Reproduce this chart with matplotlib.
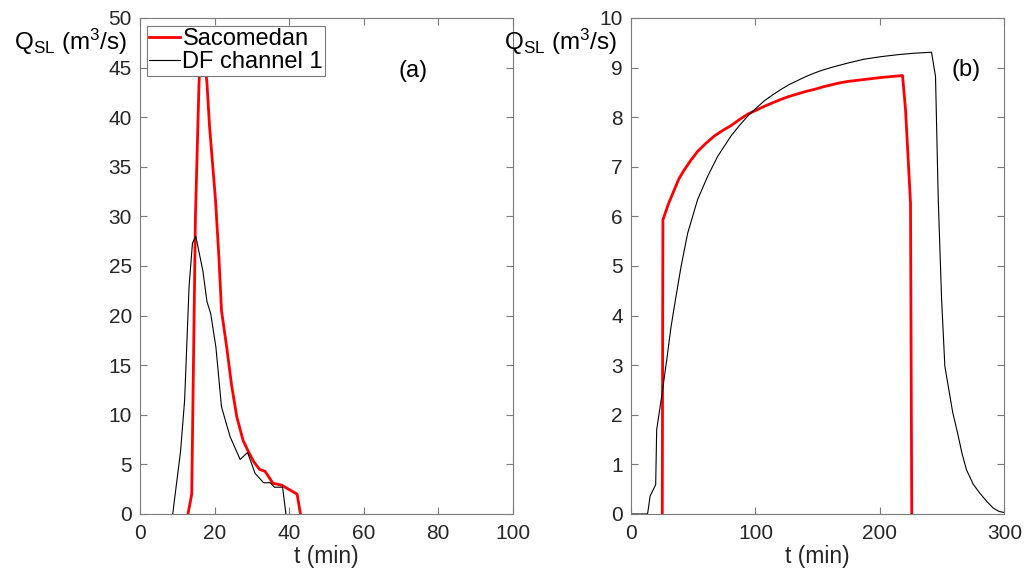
import matplotlib
matplotlib.use('Agg')
import matplotlib.pyplot as plt

# Font stile Matlab (Helvetica -> Liberation Sans)
plt.rcParams['font.family'] = ['Liberation Sans', 'DejaVu Sans']
plt.rcParams['mathtext.fontset'] = 'custom'
plt.rcParams['mathtext.rm'] = 'Liberation Sans'
plt.rcParams['mathtext.it'] = 'Liberation Sans:italic'

### DATI ############################################
# Pannello (a)
t_sac_a = [12.8, 13.8, 14.8, 15.76, 16.5, 17.9, 18.6, 20.2, 21.1, 21.8, 23.2, 24.5,
           25.9, 27.6, 29.0, 30.4, 32.0, 33.5, 35.6, 38.0, 38.9, 42.1, 43.0]
q_sac_a = [0.0, 2.0, 30.0, 43.4, 49.0, 43.4, 39.0, 31.6, 25.9, 20.5, 16.8, 13.0,
           9.8, 7.4, 6.3, 5.3, 4.5, 4.3, 3.1, 2.9, 2.7, 2.0, 0.0]

t_df_a = [8.7, 10.8, 11.9, 13.1, 14.0, 14.9, 16.8, 17.9, 18.9, 20.3, 21.8, 24.1,
          26.8, 28.8, 30.8, 33.1, 34.9, 36.0, 38.2, 39.1]
q_df_a = [0.0, 6.3, 11.5, 23.0, 27.3, 28.0, 24.5, 21.4, 20.2, 16.8, 10.8, 7.8,
          5.5, 6.2, 4.1, 3.15, 3.15, 2.7, 2.7, 0.0]

# Pannello (b)
t_sac_b = [25.1, 25.6, 30.0, 34.8, 38.5, 42.8, 48.0, 53.5, 60.0, 66.9, 73.5, 80.3,
           87.0, 93.7, 100.4, 107.1, 113.8, 120.5, 127.2, 133.9, 140.6, 147.3, 154.0,
           160.6, 167.3, 174.0, 180.7, 187.4, 194.1, 200.8, 209.5, 218.2, 220.6,
           224.6, 225.6]
q_sac_b = [0.0, 5.93, 6.25, 6.54, 6.76, 6.94, 7.13, 7.31, 7.47, 7.62, 7.73, 7.83,
           7.95, 8.06, 8.14, 8.22, 8.29, 8.36, 8.42, 8.47, 8.52, 8.56, 8.61,
           8.65, 8.69, 8.72, 8.74, 8.76, 8.78, 8.80, 8.82, 8.84, 8.15,
           6.27, 0.0]

t_df_b = [0.0, 12.6, 13.4, 15.3, 19.8, 20.6, 24.6, 28.7, 32.0, 35.6, 40.2, 45.5,
          53.5, 61.6, 69.6, 80.3, 87.0, 93.7, 100.4, 107.1, 113.8, 120.5, 127.2,
          133.9, 140.6, 147.3, 154.0, 160.6, 174.0, 187.4, 200.8, 214.2, 227.6,
          241.5, 244.7, 246.9, 249.6, 252.2, 254.9, 258.5, 262.9, 266.0, 269.6,
          275.0, 280.3, 286.0, 291.0, 296.0, 300.0]
q_df_b = [0.0, 0.0, 0.02, 0.36, 0.59, 1.70, 2.37, 3.11, 3.75, 4.31, 4.99, 5.66,
          6.34, 6.81, 7.21, 7.62, 7.83, 8.02, 8.18, 8.33, 8.45, 8.56, 8.66,
          8.74, 8.82, 8.89, 8.95, 9.00, 9.09, 9.17, 9.22, 9.26, 9.29,
          9.31, 8.82, 6.34, 4.32, 2.98, 2.58, 2.05, 1.58, 1.22, 0.89,
          0.60, 0.42, 0.25, 0.12, 0.05, 0.03]
#####################################################

fig = plt.figure(figsize=(10.34, 5.75), dpi=100)
ax_a = fig.add_axes([0.1357, 0.1061, 0.3602, 0.8626])
ax_b = fig.add_axes([0.6103, 0.1061, 0.3610, 0.8626])

ylab = r'Q$_{\mathrm{SL}}$ (m$^3$/s)'
axcol = '#262626'

for ax in (ax_a, ax_b):
    for s in ax.spines.values():
        s.set_color('#7a7a7a')
        s.set_linewidth(0.8)
    ax.tick_params(direction='in', top=True, right=True, length=5, width=0.8,
                   color='#7a7a7a', labelcolor=axcol, labelsize=15)
    ax.tick_params(axis='x', pad=7)
    ax.tick_params(axis='y', pad=6)
    ax.set_xlabel('t (min)', fontsize=16.5, color=axcol, labelpad=2)

# (a)
ax_a.plot(t_sac_a, q_sac_a, color='red', linewidth=2.0, label='Sacomedan')
ax_a.plot(t_df_a, q_df_a, color='black', linewidth=0.8, label='DF channel 1')
ax_a.set_xlim(0, 100)
ax_a.set_ylim(0, 50)
ax_a.set_xticks(range(0, 101, 20))
ax_a.set_yticks(range(0, 51, 5))
ax_a.text(73.2, 44.7, '(a)', fontsize=17, ha='center', va='center', color='black')
leg = ax_a.legend(loc='upper left', bbox_to_anchor=(0.018, 0.984), fontsize=17,
                  frameon=True, fancybox=False, edgecolor='#7a7a7a', framealpha=1,
                  borderpad=0.1, labelspacing=0.05, handlelength=1.3,
                  handletextpad=0.1, borderaxespad=0)
leg.get_frame().set_linewidth(0.8)

# (b)
ax_b.plot(t_sac_b, q_sac_b, color='red', linewidth=2.0)
ax_b.plot(t_df_b, q_df_b, color='black', linewidth=0.8)
ax_b.set_xlim(0, 300)
ax_b.set_ylim(0, 10)
ax_b.set_xticks(range(0, 301, 100))
ax_b.set_yticks(range(0, 11, 1))
ax_b.text(269.6, 8.96, '(b)', fontsize=17, ha='center', va='center', color='black')

for ax in (ax_a, ax_b):
    ax.set_ylabel(ylab, rotation=0, fontsize=17.5, color='black', ha='right', va='baseline')
    ax.yaxis.set_label_coords(-0.036, 0.935)

fig.savefig('out.png', dpi=100)
